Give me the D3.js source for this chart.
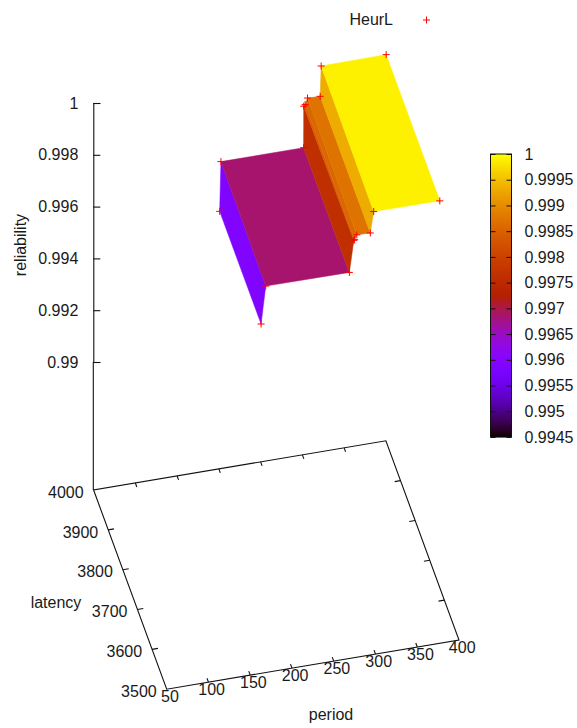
<!DOCTYPE html>
<html>
<head>
<meta charset="utf-8">
<script src="https://d3js.org/d3.v7.min.js"></script>
<style>
  html, body { margin: 0; padding: 0; background: #fff; }
  text { font-family: "Liberation Sans", Arial, sans-serif; font-size: 16px; fill: #1a1a1a; }
</style>
</head>
<body>
<script>
// values, the two scan lines of the surface
var periodBack = [202, 203, 302, 303, 305, 307, 322, 323, 401];
var latencyBack = [4006, 4003, 4003, 4008, 4010, 4005, 4004, 4003, 4004];
var relBack = [0.9949, 0.99686, 0.99686, 0.99838, 0.9984, 0.99872, 0.99872, 0.9999, 0.9999];

var periodFront = [201, 202, 302, 304, 305, 306, 322, 322, 401];
var latencyFront = [3717, 3691, 3690, 3671, 3671, 3662, 3661, 3638, 3637];
var relFront = [0.995, 0.99686, 0.99686, 0.99838, 0.9984, 0.99872, 0.99872, 0.9999, 0.9999];

var periodTicks = [50, 100, 150, 200, 250, 300, 350, 400];
var latencyTicks = [3500, 3600, 3700, 3800, 3900, 4000];
var relTicks = [0.99, 0.992, 0.994, 0.996, 0.998, 1];
var cbTicks = [0.9945, 0.995, 0.9955, 0.996, 0.9965, 0.997, 0.9975, 0.998, 0.9985, 0.999, 0.9995, 1];

var width = 577, height = 728;
var ink = '#111';

var svg = d3.select('body')
  .append('svg')
  .attr('width', width)
  .attr('height', height)
  .style('display', 'block');

var periodScale = d3.scaleLinear().domain([50, 400]).range([0, 1]);
var latencyScale = d3.scaleLinear().domain([3500, 4000]).range([0, 1]);
var relScale = d3.scaleLinear().domain([0.99, 1]).range([362, 103]);
var cbScale = d3.scaleLinear().domain([0.9945, 1]).range([437, 154]);

// floor of the box on screen
var cornerB = [166.7, 689.2], cornerC = [459, 640], cornerA = [93.6, 490];

function project(p, l, z) {
  var fx = periodScale(p), fy = latencyScale(l);
  var sx = cornerB[0] + fx * (cornerC[0] - cornerB[0]) + fy * (cornerA[0] - cornerB[0]);
  var sy = cornerB[1] + fx * (cornerC[1] - cornerB[1]) + fy * (cornerA[1] - cornerB[1]);
  return [sx, sy + (z === null ? 0 : relScale(z) - cornerA[1])];
}

// gnuplot default pm3d palette, rgbformulae 7,5,15
function palette(v) {
  var g = (v - 0.9945) / (1 - 0.9945);
  g = Math.max(0, Math.min(1, g));
  var b = Math.max(0, Math.sin(2 * Math.PI * g));
  return d3.rgb(Math.sqrt(g) * 255, g * g * g * 255, b * 255).formatHex();
}

var back = periodBack.map(function(p, i) { return { p: p, l: latencyBack[i], z: relBack[i] }; });
var front = periodFront.map(function(p, i) { return { p: p, l: latencyFront[i], z: relFront[i] }; });

var facets = d3.range(back.length - 1).map(function(i) {
  return [back[i], back[i + 1], front[i + 1], front[i]];
});

var line = d3.line();

function pt(d) { return project(d.p, d.l, d.z); }

function facetColor(f) {
  return palette(d3.mean(f, function(d) { return d.z; }));
}

svg.append('g').selectAll('path')
  .data(facets)
  .enter()
  .append('path')
  .attr('d', function(f) { return line(f.map(pt)) + 'Z'; })
  .attr('fill', facetColor)
  .attr('stroke', facetColor)
  .attr('stroke-width', 0.5);

// floor box
var floor = svg.append('g').attr('stroke', ink).attr('stroke-width', 1.1).attr('fill', 'none');
floor.append('path')
  .attr('d', line([
    project(50, 4000, null), project(50, 3500, null),
    project(400, 3500, null), project(400, 4000, null)
  ]) + 'Z');

function tickPath(a, b) { return line([a, b]); }

floor.selectAll('.tick-front')
  .data(periodTicks.slice(1, -1))
  .enter().append('path')
  .attr('d', function(d) { return tickPath(project(d, 3500, null), project(d, 3510, null)); });
floor.selectAll('.tick-back')
  .data(periodTicks.slice(1, -1))
  .enter().append('path')
  .attr('d', function(d) { return tickPath(project(d, 4000, null), project(d, 3990, null)); });
floor.selectAll('.tick-left')
  .data(latencyTicks.slice(1, -1))
  .enter().append('path')
  .attr('d', function(d) { return tickPath(project(50, d, null), project(57, d, null)); });
floor.selectAll('.tick-right')
  .data(latencyTicks.slice(1, -1))
  .enter().append('path')
  .attr('d', function(d) { return tickPath(project(400, d, null), project(393, d, null)); });

svg.append('g').selectAll('text')
  .data(periodTicks)
  .enter().append('text')
  .attr('text-anchor', 'middle')
  .attr('x', function(d) { return project(d, 3500, null)[0] + 3.2; })
  .attr('y', function(d) { return project(d, 3500, null)[1] + 13.2; })
  .text(function(d) { return d; });

svg.append('g').selectAll('text')
  .data(latencyTicks)
  .enter().append('text')
  .attr('text-anchor', 'end')
  .attr('x', function(d) { return project(50, d, null)[0] - 10; })
  .attr('y', function(d) { return project(50, d, null)[1] + 7.7; })
  .text(function(d) { return d; });

// reliability axis
var relAxis = svg.append('g')
  .attr('transform', 'translate(93.3,0)')
  .call(d3.axisLeft(relScale).tickValues(relTicks).tickSize(-7).tickPadding(15)
    .tickFormat(function(d) { return d; }));
relAxis.selectAll('path, line').attr('stroke', ink).attr('stroke-width', 1.1);
relAxis.selectAll('text').attr('fill', '#1a1a1a');
relAxis.attr('font-size', null).attr('font-family', null);
relAxis.append('line')
  .attr('y1', relScale(0.99)).attr('y2', cornerA[1]).attr('stroke', ink).attr('stroke-width', 1.1);

// axis names
svg.append('text').attr('transform', 'translate(25.5,245) rotate(-90)')
  .attr('text-anchor', 'middle').text('reliability');
svg.append('text').attr('x', 56).attr('y', 608).attr('text-anchor', 'middle').text('latency');
svg.append('text').attr('x', 331).attr('y', 720).attr('text-anchor', 'middle').text('period');

// colour bar
var cbX = 490.5, cbW = 21;
var cbSteps = d3.range(0, 283);
svg.append('g').selectAll('rect')
  .data(cbSteps)
  .enter().append('rect')
  .attr('x', cbX)
  .attr('width', cbW)
  .attr('y', function(d) { return 154 + d; })
  .attr('height', 1.2)
  .attr('fill', function(d) { return palette(cbScale.invert(154 + d + 0.5)); });
svg.append('rect')
  .attr('x', cbX).attr('y', 154).attr('width', cbW).attr('height', 283)
  .attr('fill', 'none').attr('stroke', ink);

var cbRight = svg.append('g')
  .attr('transform', 'translate(' + (cbX + cbW) + ',0)')
  .call(d3.axisRight(cbScale).tickValues(cbTicks).tickSize(-5).tickPadding(13)
    .tickFormat(function(d) { return d; }));
var cbLeft = svg.append('g')
  .attr('transform', 'translate(' + cbX + ',0)')
  .call(d3.axisLeft(cbScale).tickValues(cbTicks).tickSize(-5).tickFormat(''));
cbRight.select('.domain').remove();
cbLeft.select('.domain').remove();
cbRight.selectAll('line').attr('stroke', ink);
cbLeft.selectAll('line').attr('stroke', ink);
cbRight.selectAll('text').attr('fill', '#1a1a1a');
cbRight.attr('font-size', null).attr('font-family', null);
cbLeft.attr('font-size', null).attr('font-family', null);

// points
var pts = back.concat(front);
var s = 3.5;
svg.append('g').attr('stroke', '#f00').attr('stroke-width', 1).attr('fill', 'none')
  .selectAll('path')
  .data(pts)
  .enter().append('path')
  .attr('d', function(d) {
    var c = pt(d);
    return 'M' + (c[0] - s) + ',' + c[1] + 'H' + (c[0] + s) + 'M' + c[0] + ',' + (c[1] - s) + 'V' + (c[1] + s);
  });

// key
svg.append('text').attr('x', 393).attr('y', 25).attr('text-anchor', 'end').text('HeurL');
svg.append('path')
  .attr('d', 'M423,20H430M426.5,16.5V23.5')
  .attr('stroke', '#f00').attr('fill', 'none');
</script>
</body>
</html>
